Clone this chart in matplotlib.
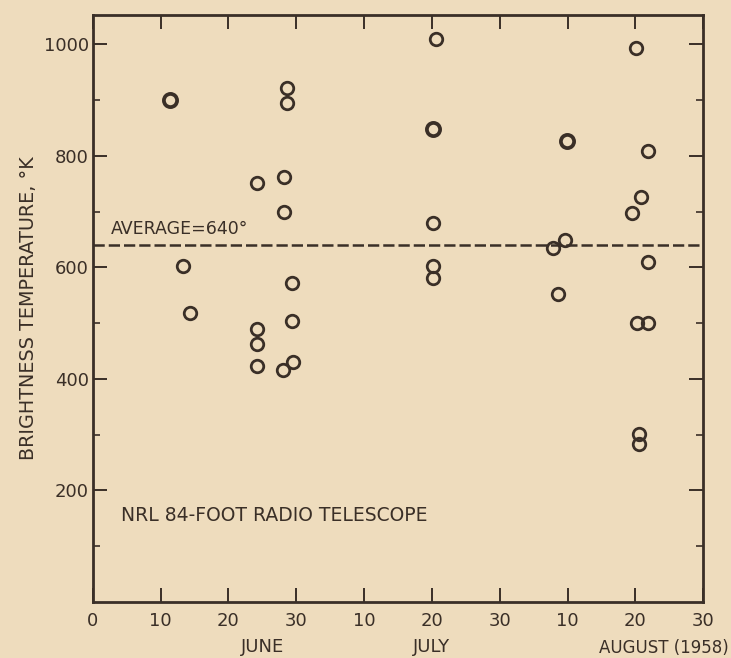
import matplotlib
matplotlib.use("Agg")
import matplotlib.pyplot as plt
import numpy as np

# Days counted from 0 = start of June (uniform 10-day grid as in the figure)
day_regular = [13.3, 14.3, 24.2, 24.2, 24.2, 24.2, 28.2, 28.2, 28.6, 28.6,
               29.4, 29.4, 28.0, 29.5, 50.6, 50.1, 50.1, 50.1, 80.1, 81.9,
               80.8, 79.5, 67.8, 69.6, 81.9, 68.6, 80.2, 81.9, 80.5, 80.5]
temp_regular = [602, 518, 752, 489, 462, 423, 761, 700, 921, 895,
                571, 503, 416, 431, 1009, 680, 602, 580, 993, 808,
                726, 697, 635, 649, 609, 552, 501, 501, 302, 284]
day_heavy = [11.4, 50.1, 69.9]
temp_heavy = [900, 848, 827]

average = 640
xticks = [0, 10, 20, 30, 40, 50, 60, 70, 80, 90]
xticklabels = ["0", "10", "20", "30", "10", "20", "30", "10", "20", "30"]
yticks = [200, 400, 600, 800, 1000]
months = ["JUNE", "JULY"]
month_pos = [25, 50]
last_month = "AUGUST (1958)"

bg = "#EEDCBD"
ink = "#3a2f27"

fig = plt.figure(figsize=(7.31, 6.58), dpi=100, facecolor=bg)
ax = fig.add_axes([0.127, 0.085, 0.835, 0.892], facecolor=bg)

ax.plot(day_regular, temp_regular, linestyle="none", marker="o", markersize=9,
        markerfacecolor="none", markeredgecolor=ink, markeredgewidth=2.0)
ax.plot(day_heavy, temp_heavy, linestyle="none", marker="o", markersize=9.5,
        markerfacecolor="none", markeredgecolor=ink, markeredgewidth=2.7)

ax.axhline(average, color=ink, linewidth=1.8, linestyle=(0, (4.5, 1.6)))
ax.text(2.6, average + 12, "AVERAGE=640°", color=ink, fontsize=12.5,
        ha="left", va="bottom")
ax.text(4.2, 155, "NRL 84-FOOT RADIO TELESCOPE", color=ink, fontsize=13.5,
        ha="left", va="center")

ax.set_xlim(0, 90)
ax.set_ylim(0, 1052)
ax.set_xticks(xticks)
ax.set_xticklabels(xticklabels)
ax.set_yticks(yticks)
ax.set_yticks([100, 300, 500, 700, 900], minor=True)

ax.tick_params(axis="both", which="major", direction="in", length=10, width=1.4,
               color=ink, labelcolor=ink, labelsize=13, top=True, right=True,
               pad=3)
ax.tick_params(axis="both", which="minor", direction="in", length=5, width=1.2,
               color=ink, top=True, right=True)
ax.tick_params(axis="x", which="major", pad=7)

for s in ax.spines.values():
    s.set_color(ink)
    s.set_linewidth(2.0)

ax.set_ylabel("BRIGHTNESS TEMPERATURE, °K", color=ink, fontsize=13.8, labelpad=4)

for m, p in zip(months, month_pos):
    ax.text(p, -0.077, m, transform=ax.get_xaxis_transform(), ha="center",
            va="center", color=ink, fontsize=13)
fig.text(0.997, 1 - 648 / 658, last_month, ha="right", va="center",
         color=ink, fontsize=12)

fig.savefig("out.png", dpi=100, facecolor=bg)
